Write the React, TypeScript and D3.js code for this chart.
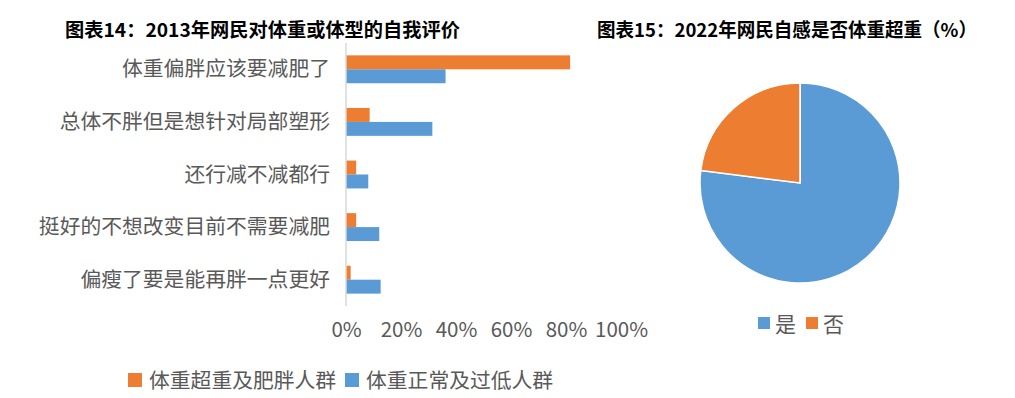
import React, { useRef, useEffect } from 'react';
import * as d3 from 'd3';

// 图表14 data
const categories = [
  '体重偏胖应该要减肥了',
  '总体不胖但是想针对局部塑形',
  '还行减不减都行',
  '挺好的不想改变目前不需要减肥',
  '偏瘦了要是能再胖一点更好',
];
const seriesNames = ['体重超重及肥胖人群', '体重正常及过低人群'];
const overweight = [0.815, 0.086, 0.037, 0.037, 0.017];
const normalOrLow = [0.362, 0.314, 0.081, 0.121, 0.126];
const xTicks = [0, 0.2, 0.4, 0.6, 0.8, 1];

// 图表15 data
const pieLabels = ['是', '否'];
const pieValues = [77, 23];

const title14 = '图表14：2013年网民对体重或体型的自我评价';
const title15 = '图表15：2022年网民自感是否体重超重（%）';

const FONT = '"Noto Sans CJK SC", "Noto Sans", sans-serif';
const ORANGE = '#ED7D31';
const BLUE = '#5B9BD5';
const GREY = '#595959';

const App = () => {
  const Svg = useRef<SVGSVGElement>(null);

  useEffect(() => {
    const svg = d3.select(Svg.current);
    svg.selectAll('*').remove();

    // titles
    svg
      .append('text')
      .attr('x', 65)
      .attr('y', 37)
      .attr('font-size', 19)
      .attr('font-weight', 'bold')
      .attr('textLength', 395)
      .attr('lengthAdjust', 'spacingAndGlyphs')
      .attr('fill', '#000')
      .text(title14);
    svg
      .append('text')
      .attr('x', 597)
      .attr('y', 37)
      .attr('font-size', 19)
      .attr('font-weight', 'bold')
      .attr('textLength', 380)
      .attr('lengthAdjust', 'spacingAndGlyphs')
      .attr('fill', '#000')
      .text(title15);

    // Bar chart
    (() => {
      const xScale = d3.scaleLinear().domain([0, 1]).range([346, 621]);
      const yScale = d3
        .scaleBand()
        .domain(categories)
        .range([43, 306])
        .paddingInner(0.47)
        .paddingOuter(0.235);
      const inner = d3
        .scaleBand()
        .domain(seriesNames)
        .range([0, yScale.bandwidth()]);
      const colors = d3.scaleOrdinal<string>().domain(seriesNames).range([ORANGE, BLUE]);

      const rows = categories.map((c, i) => ({
        cat: c,
        vals: [
          { s: seriesNames[0], v: overweight[i] },
          { s: seriesNames[1], v: normalOrLow[i] },
        ],
      }));

      const g = svg.append('g');
      g.selectAll('g.row')
        .data(rows)
        .enter()
        .append('g')
        .attr('class', 'row')
        .attr('transform', (d) => `translate(0, ${yScale(d.cat)})`)
        .selectAll('rect')
        .data((d) => d.vals)
        .enter()
        .append('rect')
        .attr('x', xScale(0))
        .attr('y', (d) => inner(d.s))
        .attr('width', (d) => xScale(d.v) - xScale(0))
        .attr('height', inner.bandwidth())
        .attr('fill', (d) => colors(d.s));

      // axis line
      g.append('line')
        .attr('x1', xScale(0))
        .attr('x2', xScale(0))
        .attr('y1', 43)
        .attr('y2', 306)
        .attr('stroke', '#D9D9D9')
        .attr('stroke-width', 1.5);

      // category labels
      g.selectAll('text.cat')
        .data(categories)
        .enter()
        .append('text')
        .attr('class', 'cat')
        .attr('x', 330)
        .attr('y', (d) => (yScale(d) as number) + yScale.bandwidth() / 2 + 7)
        .attr('text-anchor', 'end')
        .attr('font-size', 20.8)
        .attr('fill', GREY)
        .text((d) => d);

      const xAxis = d3
        .axisBottom(xScale)
        .tickValues(xTicks)
        .tickSize(0)
        .tickPadding(0)
        .tickFormat(d3.format('.0%'));
      const ax = g.append('g').attr('transform', 'translate(0, 322)').call(xAxis);
      ax.select('.domain').remove();
      ax.selectAll('text')
        .attr('font-size', 20.5)
        .attr('font-family', FONT)
        .attr('fill', GREY);

      // legend
      const lg = g.append('g').attr('transform', 'translate(128, 373)');
      const legendX = [0, 217];
      seriesNames.forEach((s, i) => {
        lg.append('rect')
          .attr('x', legendX[i])
          .attr('y', 0)
          .attr('width', 14)
          .attr('height', 14)
          .attr('fill', colors(s));
        lg.append('text')
          .attr('x', legendX[i] + 21)
          .attr('y', 15)
          .attr('font-size', 20.8)
          .attr('fill', GREY)
          .text(s);
      });
    })();

    // Pie chart
    (() => {
      const cx = 800;
      const cy = 183;
      const r = 100;
      const colors = d3.scaleOrdinal<string>().domain(pieLabels).range([BLUE, ORANGE]);
      const pie = d3.pie<number>().sort(null)(pieValues);
      const arc = d3.arc<d3.PieArcDatum<number>>().innerRadius(0).outerRadius(r);

      const g = svg.append('g').attr('transform', `translate(${cx}, ${cy})`);
      g.selectAll('path')
        .data(pie)
        .enter()
        .append('path')
        .attr('d', arc)
        .attr('fill', (d, i) => colors(pieLabels[i]))
        .attr('stroke', '#fff')
        .attr('stroke-width', 1.5);

      const lg = svg.append('g').attr('transform', 'translate(758, 317)');
      const legendX = [0, 48];
      pieLabels.forEach((l, i) => {
        lg.append('rect')
          .attr('x', legendX[i])
          .attr('y', 0)
          .attr('width', 12)
          .attr('height', 12)
          .attr('fill', colors(l));
        lg.append('text')
          .attr('x', legendX[i] + 17)
          .attr('y', 15)
          .attr('font-size', 21)
          .attr('fill', GREY)
          .text(l);
      });
    })();
  }, []);

  return (
    <svg
      ref={Svg}
      width={1015}
      height={398}
      style={{ position: 'absolute', left: 0, top: 0, background: '#fff', fontFamily: FONT }}
    />
  );
};

export default App;
